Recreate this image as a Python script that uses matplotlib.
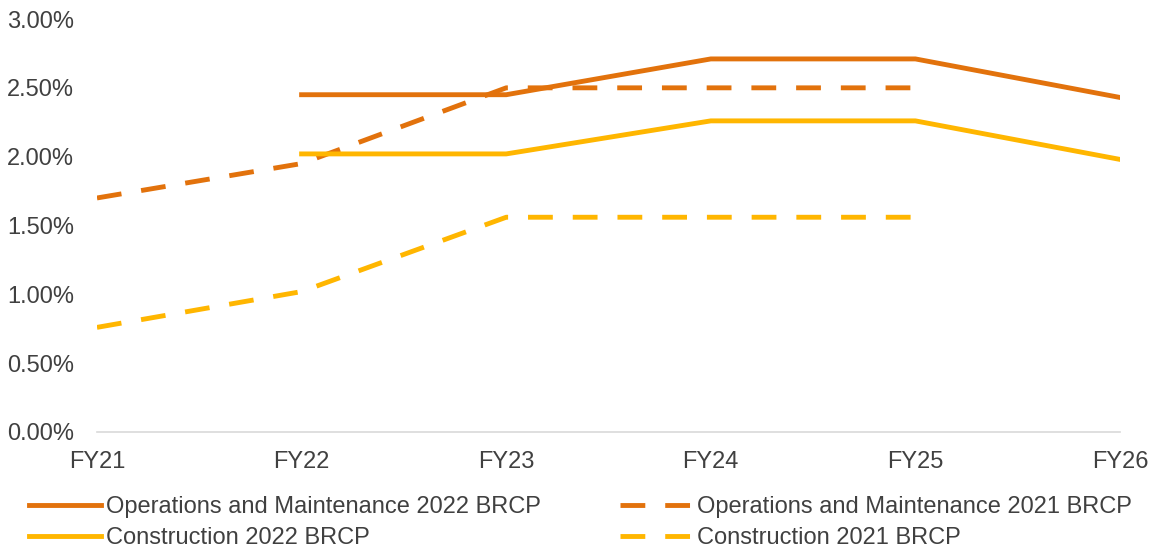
import matplotlib
matplotlib.use('agg')
import matplotlib.pyplot as plt
from matplotlib.ticker import FuncFormatter
import numpy as np

# data (percent)
years = ['FY21', 'FY22', 'FY23', 'FY24', 'FY25', 'FY26']
om_2022 = [np.nan, 2.45, 2.45, 2.71, 2.71, 2.43]
om_2021 = [1.70, 1.95, 2.50, 2.50, 2.50, np.nan]
con_2022 = [np.nan, 2.02, 2.02, 2.26, 2.26, 1.98]
con_2021 = [0.76, 1.02, 1.56, 1.56, 1.56, np.nan]

orange = '#E2720C'
yellow = '#FFB600'
text_col = '#404040'
fs = 17

plt.rcParams['font.family'] = ['Liberation Sans', 'DejaVu Sans']

fig = plt.figure(figsize=(11.56, 5.56), dpi=100)
ax = fig.add_axes([97 / 1156, 1 - 432 / 556, (1120 - 97) / 1156, (432 - 19) / 556])

x = np.arange(len(years))
lw = 3.5
dash = (5.1, 4.1)
ax.plot(x, om_2022, color=orange, lw=lw, label='Operations and Maintenance 2022 BRCP')
ax.plot(x, om_2021, color=orange, lw=lw, ls=(0, dash), label='Operations and Maintenance 2021 BRCP')
ax.plot(x, con_2022, color=yellow, lw=lw, label='Construction 2022 BRCP')
ax.plot(x, con_2021, color=yellow, lw=lw, ls=(0, dash), label='Construction 2021 BRCP')

ax.set_xlim(0, len(years) - 1)
ax.set_ylim(0, 3.0)
ax.set_xticks(x)
ax.set_xticklabels(years)
ax.set_yticks(np.arange(0, 3.01, 0.5))
ax.yaxis.set_major_formatter(FuncFormatter(lambda v, p: f'{v:.2f}%'))
ax.tick_params(axis='both', length=0, labelsize=fs, labelcolor=text_col)
ax.tick_params(axis='y', pad=16.5)
ax.tick_params(axis='x', pad=13.5)

for s in ['top', 'right', 'left']:
    ax.spines[s].set_visible(False)
ax.spines['bottom'].set_color('#D9D9D9')
ax.spines['bottom'].set_linewidth(1.2)
ax.patch.set_visible(False)

# legend order: row1 = O&M 2022, O&M 2021 ; row2 = Con 2022, Con 2021
h, l = ax.get_legend_handles_labels()
order = [0, 2, 1, 3]
leg = fig.legend([h[i] for i in order], [l[i] for i in order], ncol=2,
                 loc='upper left', bbox_to_anchor=(29 / 1156, 1 - 496 / 556),
                 frameon=False, fontsize=fs, handlelength=3.05, handletextpad=0.22,
                 columnspacing=3.35, labelspacing=0.4, borderaxespad=0, borderpad=0)
for t in leg.get_texts():
    t.set_color(text_col)

fig.savefig('out.png', dpi=100)
plt.close()
